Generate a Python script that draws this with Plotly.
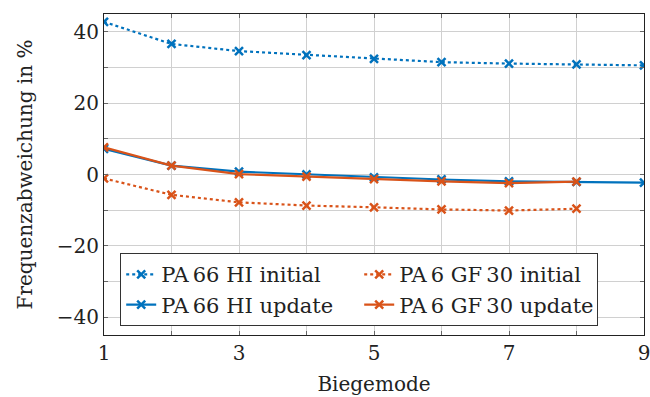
import plotly.graph_objects as go

modes = [1, 2, 3, 4, 5, 6, 7, 8, 9]
modes_pa6 = [1, 2, 3, 4, 5, 6, 7, 8]

pa66_initial = [42.8, 36.6, 34.6, 33.5, 32.4, 31.5, 31.1, 30.9, 30.6]
pa6_initial = [-1.1, -5.7, -7.8, -8.7, -9.2, -9.8, -10.1, -9.6]
pa66_update = [7.2, 2.5, 0.8, 0.0, -0.8, -1.4, -1.9, -2.1, -2.3]
pa6_update = [7.6, 2.5, 0.1, -0.6, -1.3, -1.9, -2.4, -2.0]

names = ["PA\u200966 HI initial", "PA\u20096 GF\u200930 initial",
         "PA\u200966 HI update", "PA\u20096 GF\u200930 update"]

x_ticks = [1, 2, 3, 4, 5, 6, 7, 8, 9]
x_ticklabels = ["1", "", "3", "", "5", "", "7", "", "9"]
y_ticks = [-40, -30, -20, -10, 0, 10, 20, 30, 40]
y_ticklabels = ["\u221240", "", "\u221220", "", "0", "", "20", "", "40"]

BLUE = "#0072BD"
ORANGE = "#D95319"
FONT = "DejaVu Serif"
FS = 20
LFS = 21

fig = go.Figure()
series = [
    (modes, pa66_initial, names[0], BLUE, "dot"),
    (modes_pa6, pa6_initial, names[1], ORANGE, "dot"),
    (modes, pa66_update, names[2], BLUE, "solid"),
    (modes_pa6, pa6_update, names[3], ORANGE, "solid"),
]
for xs, ys, nm, col, dash in series:
    fig.add_trace(go.Scatter(
        x=xs, y=ys, name=nm, mode="lines+markers",
        line=dict(color=col, width=2.2, dash=dash),
        marker=dict(symbol="x-thin", size=8, line=dict(color=col, width=2.5), color=col),
    ))

fig.update_layout(
    width=650, height=397,
    margin=dict(l=104, r=6, t=14, b=62, autoexpand=False),
    paper_bgcolor="white", plot_bgcolor="white",
    font=dict(family=FONT, size=FS, color="#222"),
    showlegend=True,
    legend=dict(
        orientation="h", x=0.03, y=0.255, xanchor="left", yanchor="top",
        entrywidth=193, entrywidthmode="pixels",
        bgcolor="white", bordercolor="#333", borderwidth=1,
        font=dict(family=FONT, size=LFS, color="#222"),
    ),
)
fig.update_xaxes(
    range=[1, 9], tickvals=x_ticks, ticktext=x_ticklabels,
    showgrid=True, gridcolor="#d0d0d0", gridwidth=1,
    showline=True, linecolor="#222", linewidth=1.2, mirror="allticks",
    ticks="inside", ticklen=4, tickcolor="#666",
    zeroline=False, automargin=False, ticklabeloverflow="allow",
    title=dict(text="Biegemode", font=dict(family=FONT, size=FS), standoff=12),
)
fig.update_yaxes(
    range=[-45, 45], tickvals=y_ticks, ticktext=y_ticklabels,
    showgrid=True, gridcolor="#d0d0d0", gridwidth=1,
    showline=True, linecolor="#222", linewidth=1.2, mirror="allticks",
    ticks="inside", ticklen=4, tickcolor="#666",
    zeroline=False, automargin=False,
    title=dict(text="Frequenzabweichung in %", font=dict(family=FONT, size=FS), standoff=18),
)

fig.write_html("out.html")
